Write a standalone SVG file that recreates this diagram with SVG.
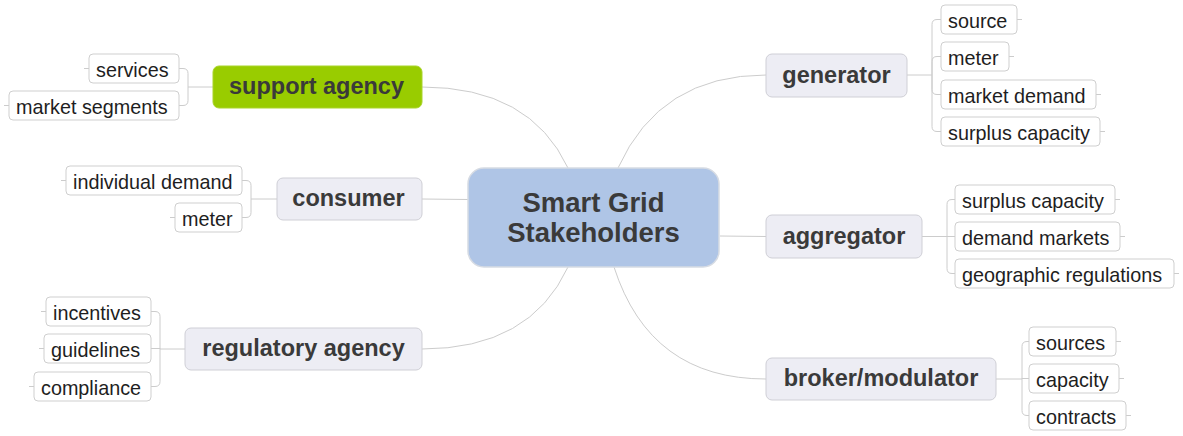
<svg xmlns="http://www.w3.org/2000/svg" width="1183" height="436" viewBox="0 0 1183 436">
<style>
.main rect{fill:#ededf4;stroke:#cfcfd6;stroke-width:1}
.main text{font-family:"Liberation Sans",Arial,sans-serif;font-weight:bold;font-size:23.5px;fill:#3a3a3a;text-anchor:middle}
.sub rect{fill:#ffffff;stroke:#cfcfcf;stroke-width:1}
.sub text{font-family:"Liberation Sans",Arial,sans-serif;font-size:19.8px;fill:#1e1e1e}
.conn path{fill:none;stroke:#cccccc;stroke-width:1}
</style>
<rect width="1183" height="436" fill="#ffffff"/>
<g id="connectors" class="conn">
<path d="M568 168 Q530 87 422 87"/>
<path d="M468 199.5 L422 199"/>
<path d="M568 267 Q530 349 422 349"/>
<path d="M618 168 Q660 75 766 75"/>
<path d="M720 236 L766 236.5"/>
<path d="M614 267 Q650 379 766 379"/>
<path d="M213 87 H188 M188 87 V73.5 Q188 68.5 183 68.5 H179 M188 87 V100.5 Q188 105.5 183 105.5 H179"/>
<path d="M84 68.5 H89 M4 105.5 H9"/>
<path d="M277 199 H251 M251 199 V185.5 Q251 180.5 246 180.5 H242 M251 199 V212.5 Q251 217.5 246 217.5 H242"/>
<path d="M61 180.5 H66 M170 217.5 H175"/>
<path d="M185 349 H160 M160 349 V316.5 Q160 311.5 155 311.5 H151 M160 349 V348.5 H151 M160 349 V381.5 Q160 386.5 155 386.5 H151"/>
<path d="M41 311.5 H46 M39 348.5 H44 M29 386.5 H34"/>
<path d="M907 75 H932 M932 75 V24.5 Q932 19.5 937 19.5 H941 M932 75 V61.5 Q932 56.5 937 56.5 H941 M932 75 V89.5 Q932 94.5 937 94.5 H941 M932 75 V126.5 Q932 131.5 937 131.5 H941"/>
<path d="M1017 19.5 H1022 M1009 56.5 H1014 M1096 94.5 H1101 M1100 131.5 H1105"/>
<path d="M922 236.5 H947 M947 236.5 V204.5 Q947 199.5 952 199.5 H955 M947 236.5 H955 M947 236.5 V268.5 Q947 273.5 952 273.5 H955"/>
<path d="M1115 199.5 H1120 M1120 236.5 H1125 M1174 273.5 H1179"/>
<path d="M996 379 H1022 M1022 379 V346.5 Q1022 341.5 1027 341.5 H1029 M1022 379 V378.5 H1029 M1022 379 V410.5 Q1022 415.5 1027 415.5 H1029"/>
<path d="M1116 341.5 H1121 M1119 378.5 H1124 M1126 415.5 H1131"/>
</g>
<g id="center">
<rect x="468" y="168" width="251" height="99" rx="16" fill="#afc5e6" stroke="#d6dbe3" stroke-width="1.5"/>
<text x="593.5" y="212" font-family="Liberation Sans,Arial,sans-serif" font-weight="bold" font-size="27.5" fill="#3a3a3a" text-anchor="middle">Smart Grid</text>
<text x="593.5" y="242" font-family="Liberation Sans,Arial,sans-serif" font-weight="bold" font-size="27.5" fill="#3a3a3a" text-anchor="middle">Stakeholders</text>
</g>
<g id="support-agency" class="main"><rect x="213" y="66" width="209" height="42" rx="6" style="fill:#99cc00;stroke:#a9d42a"/><text x="316.5" y="94">support agency</text></g>
<g id="consumer" class="main"><rect x="277" y="178" width="145" height="42" rx="6"/><text x="348.5" y="206">consumer</text></g>
<g id="regulatory-agency" class="main"><rect x="185" y="328" width="237" height="42" rx="6"/><text x="303.5" y="356">regulatory agency</text></g>
<g id="generator" class="main"><rect x="766" y="54" width="141" height="43" rx="6"/><text x="836.5" y="83">generator</text></g>
<g id="aggregator" class="main"><rect x="766" y="215" width="156" height="43" rx="6"/><text x="844" y="244">aggregator</text></g>
<g id="broker-modulator" class="main"><rect x="766" y="358" width="230" height="42" rx="6"/><text x="881" y="386">broker/modulator</text></g>
<g id="services" class="sub"><rect x="89" y="54" width="90" height="29" rx="4"/><text x="96" y="76.5">services</text></g>
<g id="market-segments" class="sub"><rect x="9" y="91" width="170" height="29" rx="4"/><text x="16" y="113.5">market segments</text></g>
<g id="individual-demand" class="sub"><rect x="66" y="166" width="176" height="29" rx="4"/><text x="73" y="188.5">individual demand</text></g>
<g id="consumer-meter" class="sub"><rect x="175" y="203" width="67" height="29" rx="4"/><text x="182" y="225.5">meter</text></g>
<g id="incentives" class="sub"><rect x="46" y="297" width="105" height="29" rx="4"/><text x="53" y="319.5">incentives</text></g>
<g id="guidelines" class="sub"><rect x="44" y="334" width="107" height="29" rx="4"/><text x="51" y="356.5">guidelines</text></g>
<g id="compliance" class="sub"><rect x="34" y="372" width="117" height="29" rx="4"/><text x="41" y="394.5">compliance</text></g>
<g id="source" class="sub"><rect x="941" y="5" width="76" height="29" rx="4"/><text x="948" y="27.5">source</text></g>
<g id="generator-meter" class="sub"><rect x="941" y="42" width="68" height="29" rx="4"/><text x="948" y="64.5">meter</text></g>
<g id="market-demand" class="sub"><rect x="941" y="80" width="155" height="29" rx="4"/><text x="948" y="102.5">market demand</text></g>
<g id="generator-surplus-capacity" class="sub"><rect x="941" y="117" width="159" height="29" rx="4"/><text x="948" y="139.5">surplus capacity</text></g>
<g id="aggregator-surplus-capacity" class="sub"><rect x="955" y="185" width="160" height="29" rx="4"/><text x="962" y="207.5">surplus capacity</text></g>
<g id="demand-markets" class="sub"><rect x="955" y="222" width="165" height="29" rx="4"/><text x="962" y="244.5">demand markets</text></g>
<g id="geographic-regulations" class="sub"><rect x="955" y="259" width="219" height="29" rx="4"/><text x="962" y="281.5">geographic regulations</text></g>
<g id="sources" class="sub"><rect x="1029" y="327" width="87" height="29" rx="4"/><text x="1036" y="349.5">sources</text></g>
<g id="capacity" class="sub"><rect x="1029" y="364" width="90" height="29" rx="4"/><text x="1036" y="386.5">capacity</text></g>
<g id="contracts" class="sub"><rect x="1029" y="401" width="97" height="29" rx="4"/><text x="1036" y="423.5">contracts</text></g>
</svg>
